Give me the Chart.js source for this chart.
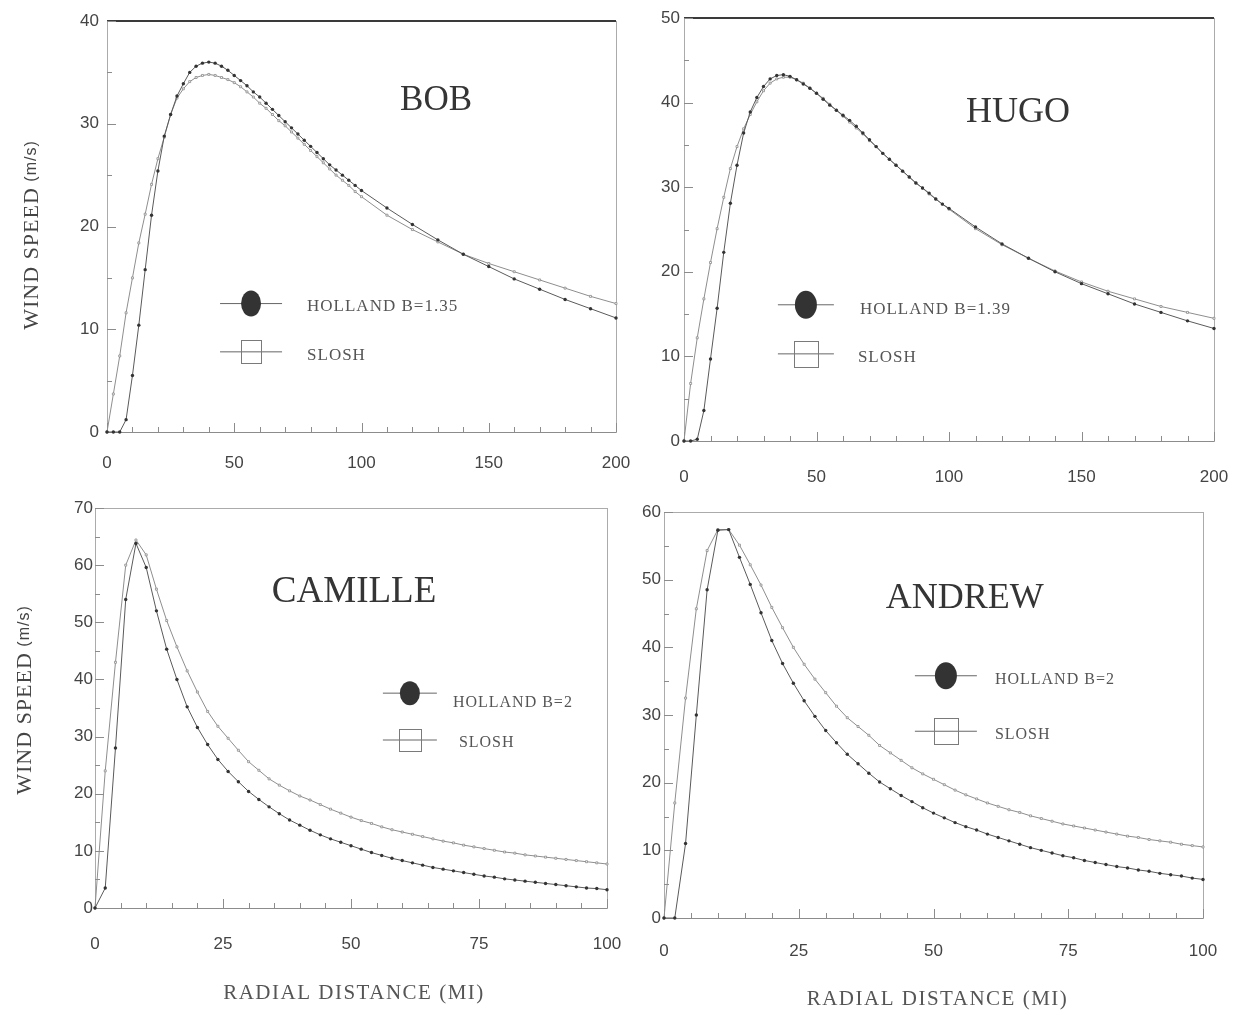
<!DOCTYPE html>
<html>
<head>
<meta charset="utf-8">
<script src="https://cdn.jsdelivr.net/npm/chart.js@4.4.1/dist/chart.umd.min.js"></script>
<style>
  body { margin: 0; background: #fff; width: 1236px; height: 1011px; position: relative; overflow: hidden; }
  .panel { position: absolute; }
</style>
</head>
<body>
<div class="panel" style="left:0;top:0;width:640px;height:490px"><canvas id="bob"></canvas></div>
<div class="panel" style="left:630px;top:0;width:606px;height:495px"><canvas id="hugo"></canvas></div>
<div class="panel" style="left:0;top:490px;width:640px;height:521px"><canvas id="camille"></canvas></div>
<div class="panel" style="left:630px;top:495px;width:606px;height:516px"><canvas id="andrew"></canvas></div>
<script>
// radial distance (mi) for the two upper panels
const topDist = [0, 2.5, 5, 7.5, 10, 12.5, 15, 17.5, 20, 22.5, 25, 27.5, 30, 32.5, 35, 37.5, 40, 42.5, 45, 47.5, 50,
  52.5, 55, 57.5, 60, 62.5, 65, 67.5, 70, 72.5, 75, 77.5, 80, 82.5, 85, 87.5, 90, 92.5, 95, 97.5, 100,
  110, 120, 130, 140, 150, 160, 170, 180, 190, 200];
// radial distance (mi) for the two lower panels
const lowDist = [0, 2, 4, 6, 8, 10, 12, 14, 16, 18, 20, 22, 24, 26, 28, 30, 32, 34, 36, 38, 40, 42, 44, 46, 48, 50,
  52, 54, 56, 58, 60, 62, 64, 66, 68, 70, 72, 74, 76, 78, 80, 82, 84, 86, 88, 90, 92, 94, 96, 98, 100];

// wind speed (m/s)
const bobHolland = [0, 0, 0, 1.2, 5.5, 10.4, 15.8, 21.1, 25.4, 28.8, 30.9, 32.7, 33.9, 35.0, 35.6, 35.9, 36.0, 35.9, 35.6, 35.2, 34.7,
  34.2, 33.7, 33.1, 32.6, 32.0, 31.4, 30.8, 30.2, 29.6, 29.0, 28.4, 27.8, 27.2, 26.6, 26.0, 25.5, 25.0, 24.5, 24.0, 23.5,
  21.8, 20.2, 18.7, 17.3, 16.1, 14.9, 13.9, 12.9, 12.0, 11.1];
const bobSlosh = [0, 3.7, 7.4, 11.6, 15.0, 18.4, 21.2, 24.1, 26.6, 28.7, 30.9, 32.5, 33.4, 34.1, 34.5, 34.7, 34.8, 34.7, 34.5, 34.3, 34.0,
  33.6, 33.1, 32.6, 32.0, 31.5, 30.9, 30.3, 29.8, 29.2, 28.6, 28.0, 27.4, 26.8, 26.2, 25.6, 25.0, 24.5, 24.0, 23.4, 22.9,
  21.1, 19.7, 18.5, 17.3, 16.4, 15.6, 14.8, 14.0, 13.2, 12.5];

const hugoHolland = [0, 0, 0.2, 3.6, 9.7, 15.7, 22.3, 28.1, 32.6, 36.4, 38.9, 40.6, 41.9, 42.8, 43.2, 43.3, 43.1, 42.7, 42.2, 41.7, 41.1,
  40.4, 39.7, 39.1, 38.5, 37.9, 37.2, 36.4, 35.6, 34.8, 34.0, 33.3, 32.6, 31.9, 31.2, 30.5, 29.9, 29.3, 28.6, 28.0, 27.5,
  25.3, 23.3, 21.6, 20.0, 18.6, 17.4, 16.2, 15.2, 14.2, 13.3];
const hugoSlosh = [0, 6.8, 12.2, 16.8, 21.1, 25.1, 28.8, 32.2, 34.8, 36.9, 38.6, 40.1, 41.4, 42.3, 42.8, 43.0, 43.0, 42.7, 42.3, 41.7, 41.1,
  40.5, 39.8, 39.1, 38.4, 37.7, 37.0, 36.3, 35.5, 34.8, 34.0, 33.3, 32.6, 31.9, 31.2, 30.5, 29.9, 29.2, 28.6, 28.0, 27.4,
  25.1, 23.2, 21.6, 20.1, 18.8, 17.7, 16.8, 15.9, 15.2, 14.5];

const camilleHolland = [0, 3.5, 28, 54, 63.8, 59.6, 52.0, 45.3, 40.0, 35.2, 31.6, 28.6, 26.0, 23.9, 22.1, 20.4, 19.0, 17.7, 16.5, 15.4,
  14.5, 13.6, 12.8, 12.1, 11.5, 10.9, 10.3, 9.7, 9.2, 8.7, 8.3, 7.9, 7.5, 7.1, 6.8, 6.5, 6.2, 5.9, 5.6, 5.4,
  5.1, 4.9, 4.7, 4.5, 4.3, 4.1, 3.9, 3.7, 3.5, 3.4, 3.2];
const camilleSlosh = [0, 24, 43, 60, 64.4, 61.8, 55.8, 50.3, 45.7, 41.5, 37.8, 34.4, 31.8, 29.7, 27.6, 25.6, 24.1, 22.6, 21.5, 20.5,
  19.6, 18.9, 18.1, 17.3, 16.6, 15.9, 15.3, 14.8, 14.2, 13.7, 13.3, 12.9, 12.5, 12.1, 11.7, 11.4, 11.0, 10.7, 10.4, 10.1,
  9.8, 9.6, 9.3, 9.1, 8.9, 8.7, 8.5, 8.3, 8.1, 7.9, 7.7];

const andrewHolland = [0, 0, 11, 30, 48.5, 57.3, 57.4, 53.3, 49.3, 45.1, 41.0, 37.6, 34.7, 32.1, 29.8, 27.7, 25.9, 24.2, 22.8, 21.4,
  20.1, 19.1, 18.1, 17.2, 16.3, 15.5, 14.8, 14.1, 13.5, 13.0, 12.4, 11.9, 11.4, 10.9, 10.4, 10.0, 9.6, 9.2, 8.9, 8.5,
  8.2, 7.9, 7.6, 7.4, 7.1, 6.9, 6.6, 6.4, 6.2, 5.9, 5.7];
const andrewSlosh = [0, 17, 32.5, 45.7, 54.3, 57.4, 57.4, 55.1, 52.2, 49.2, 45.9, 42.9, 40.0, 37.5, 35.3, 33.3, 31.3, 29.6, 28.3, 27.0,
  25.5, 24.4, 23.3, 22.2, 21.3, 20.5, 19.7, 18.9, 18.2, 17.6, 17.0, 16.5, 16.0, 15.6, 15.1, 14.7, 14.3, 13.9, 13.6, 13.3,
  13.0, 12.7, 12.4, 12.1, 11.9, 11.6, 11.4, 11.2, 10.9, 10.7, 10.5];

const SERIF = '"Liberation Serif", "Times New Roman", serif';
const SANS = '"Liberation Sans", Arial, sans-serif';

// frame, inward ticks, storm name, legend and axis titles
const panelDecor = {
  id: 'panelDecor',
  beforeDatasetsDraw(chart, args, o) {
    const { ctx, chartArea: a, scales: { x, y } } = chart;
    ctx.save();
    ctx.strokeStyle = '#ababab';
    ctx.lineWidth = 1;
    ctx.strokeRect(a.left + 0.5, a.top + 0.5, a.right - a.left, a.bottom - a.top);
    if (o.heavyTop) {
      ctx.strokeStyle = '#3a3a3a';
      ctx.lineWidth = 2;
      ctx.beginPath();
      ctx.moveTo(a.left, a.top);
      ctx.lineTo(a.right, a.top);
      ctx.stroke();
    }
    ctx.strokeStyle = '#8c8c8c';
    ctx.lineWidth = 1;
    ctx.beginPath();
    ctx.moveTo(a.left, a.bottom + 0.5);
    ctx.lineTo(a.right, a.bottom + 0.5);
    for (let v = x.min; v <= x.max + 1e-6; v += o.xMinor) {
      const px = Math.round(x.getPixelForValue(v)) + 0.5;
      const len = Math.abs(v % o.xMajor) < 1e-6 ? 9 : 5;
      ctx.moveTo(px, a.bottom);
      ctx.lineTo(px, a.bottom - len);
    }
    for (let v = y.min; v <= y.max + 1e-6; v += o.yMinor) {
      const py = Math.round(y.getPixelForValue(v)) + 0.5;
      const len = Math.abs(v % o.yMajor) < 1e-6 ? 9 : 5;
      ctx.moveTo(a.left, py);
      ctx.lineTo(a.left + len, py);
    }
    ctx.stroke();
    ctx.restore();
  },
  afterDatasetsDraw(chart, args, o) {
    const { ctx, chartArea: a, scales: { x, y } } = chart;
    ctx.save();

    // storm name
    ctx.fillStyle = '#353535';
    ctx.font = o.name.size + 'px ' + SERIF;
    ctx.textAlign = 'center';
    ctx.textBaseline = 'middle';
    ctx.fillText(o.name.text, x.getPixelForValue(o.name.x), y.getPixelForValue(o.name.y));

    // legend
    const lg = o.legend;
    const lx = x.getPixelForValue(lg.x);
    const hy = y.getPixelForValue(lg.holland);
    const sy = y.getPixelForValue(lg.slosh);
    ctx.strokeStyle = '#666';
    ctx.lineWidth = 1;
    ctx.beginPath();
    ctx.moveTo(lx - lg.arm, hy); ctx.lineTo(lx + lg.arm, hy);
    ctx.moveTo(lx - lg.arm, sy); ctx.lineTo(lx + lg.arm, sy);
    ctx.stroke();
    ctx.fillStyle = '#333';
    ctx.beginPath();
    ctx.ellipse(lx, hy, lg.rx, lg.ry, 0, 0, Math.PI * 2);
    ctx.fill();
    ctx.strokeStyle = '#7a7a7a';
    ctx.strokeRect(Math.round(lx - lg.sq / 2) + 0.5, Math.round(sy - lg.sqh / 2) + 0.5, lg.sq, lg.sqh);
    ctx.fillStyle = '#555';
    ctx.font = lg.size + 'px ' + SERIF;
    ctx.textAlign = 'left';
    ctx.letterSpacing = '1px';
    ctx.fillText(lg.hText, lx + lg.hGap, hy + lg.hDy);
    ctx.fillText('SLOSH', lx + lg.sGap, sy + lg.sDy);

    // y axis title
    if (o.yTitle) {
      const t = o.yTitle;
      ctx.save();
      ctx.translate(t.x, t.y);
      ctx.rotate(-Math.PI / 2);
      ctx.letterSpacing = '1px';
      ctx.font = '22px ' + SERIF;
      const w1 = ctx.measureText('WIND SPEED').width;
      ctx.font = '16px ' + SANS;
      const w2 = ctx.measureText(' (m/s)').width;
      const start = -(w1 + w2) / 2;
      ctx.fillStyle = '#444';
      ctx.font = '22px ' + SERIF;
      ctx.fillText('WIND SPEED', start, 0);
      ctx.font = '16px ' + SANS;
      ctx.fillText(' (m/s)', start + w1, 0);
      ctx.restore();
    }

    // x axis title
    if (o.xTitle) {
      ctx.letterSpacing = '1.5px';
      ctx.font = '21px ' + SERIF;
      ctx.fillStyle = '#555';
      ctx.textAlign = 'center';
      ctx.fillText('RADIAL DISTANCE (MI)', (a.left + a.right) / 2 + o.xTitle.dx, o.xTitle.y);
    }
    ctx.restore();
  }
};

function pts(xs, ys) {
  return xs.map((v, i) => ({ x: v, y: ys[i] }));
}

function makePanel(id, cfg) {
  new Chart(document.getElementById(id), {
    type: 'line',
    data: {
      datasets: [
        {
          label: cfg.hollandLabel,
          data: pts(cfg.dist, cfg.holland),
          borderColor: '#5a5a5a',
          borderWidth: 1,
          pointRadius: 1.7,
          pointBackgroundColor: '#333',
          pointBorderWidth: 0,
          tension: 0,
          clip: false
        },
        {
          label: 'SLOSH',
          data: pts(cfg.dist, cfg.slosh),
          borderColor: '#8e8e8e',
          borderWidth: 1,
          pointStyle: 'rect',
          pointRadius: 1.4,
          pointBackgroundColor: '#fff',
          pointBorderColor: '#8a8a8a',
          pointBorderWidth: 0.8,
          tension: 0,
          clip: false
        }
      ]
    },
    options: {
      responsive: true,
      maintainAspectRatio: false,
      animation: false,
      events: [],
      layout: { padding: { left: 0, top: cfg.padTop, right: cfg.padRight, bottom: 0 } },
      scales: {
        x: {
          type: 'linear',
          min: 0,
          max: cfg.xMax,
          grid: { display: false, drawTicks: false },
          border: { display: false },
          ticks: { stepSize: cfg.xStep, padding: cfg.xPad, color: '#444', font: { family: SANS, size: 17 } },
          afterFit: s => { s.height = cfg.xHeight; s.paddingLeft = 0; s.paddingRight = 0; }
        },
        y: {
          min: 0,
          max: cfg.yMax,
          grid: { display: false, drawTicks: false },
          border: { display: false },
          ticks: { stepSize: 10, padding: cfg.yPad, color: '#444', font: { family: SANS, size: 17 } },
          afterFit: s => { s.width = cfg.yWidth; s.paddingTop = 0; s.paddingBottom = 0; }
        }
      },
      plugins: {
        legend: { display: false },
        tooltip: { enabled: false },
        panelDecor: cfg.decor
      }
    },
    plugins: [panelDecor]
  });
}

makePanel('bob', {
  dist: topDist, holland: bobHolland, slosh: bobSlosh, hollandLabel: 'HOLLAND B=1.35',
  xMax: 200, xStep: 50, yMax: 40, padTop: 21, padRight: 24, yWidth: 107, xHeight: 58, xPad: 21, yPad: 8,
  decor: {
    heavyTop: true, xMinor: 10, xMajor: 50, yMinor: 5, yMajor: 10,
    name: { text: 'BOB', x: 129.3, y: 32.2, size: 35 },
    legend: { x: 56.6, holland: 12.5, slosh: 7.8, arm: 31, rx: 10, ry: 13, sq: 20, sqh: 23,
      size: 17, hText: 'HOLLAND B=1.35', hGap: 56, sGap: 56, hDy: 3, sDy: 4 },
    yTitle: { x: 32, y: 235 }
  }
});

makePanel('hugo', {
  dist: topDist, holland: hugoHolland, slosh: hugoSlosh, hollandLabel: 'HOLLAND B=1.39',
  xMax: 200, xStep: 50, yMax: 50, padTop: 18, padRight: 22, yWidth: 54, xHeight: 54, xPad: 26, yPad: 4,
  decor: {
    heavyTop: true, xMinor: 10, xMajor: 50, yMinor: 5, yMajor: 10,
    name: { text: 'HUGO', x: 126, y: 38.8, size: 36 },
    legend: { x: 46, holland: 16.1, slosh: 10.3, arm: 28, rx: 11, ry: 14, sq: 24, sqh: 26,
      size: 17, hText: 'HOLLAND B=1.39', hGap: 54, sGap: 52, hDy: 5, sDy: 4 }
  }
});

makePanel('camille', {
  dist: lowDist, holland: camilleHolland, slosh: camilleSlosh, hollandLabel: 'HOLLAND B=2',
  xMax: 100, xStep: 25, yMax: 70, padTop: 18, padRight: 33, yWidth: 95, xHeight: 103, xPad: 26, yPad: 2,
  decor: {
    heavyTop: false, xMinor: 5, xMajor: 25, yMinor: 5, yMajor: 10,
    name: { text: 'CAMILLE', x: 50.6, y: 55.3, size: 37 },
    legend: { x: 61.5, holland: 37.6, slosh: 29.4, arm: 27, rx: 10, ry: 12, sq: 22, sqh: 22,
      size: 16, hText: 'HOLLAND B=2', hGap: 43, sGap: 49, hDy: 10, sDy: 3 },
    yTitle: { x: 25, y: 210 },
    xTitle: { dx: 3, y: 503 }
  }
});

makePanel('andrew', {
  dist: lowDist, holland: andrewHolland, slosh: andrewSlosh, hollandLabel: 'HOLLAND B=2',
  xMax: 100, xStep: 25, yMax: 60, padTop: 17, padRight: 33, yWidth: 34, xHeight: 93, xPad: 23, yPad: 3,
  decor: {
    heavyTop: false, xMinor: 5, xMajor: 25, yMinor: 5, yMajor: 10,
    name: { text: 'ANDREW', x: 55.8, y: 47.2, size: 36 },
    legend: { x: 52.3, holland: 35.8, slosh: 27.6, arm: 31, rx: 11, ry: 13.5, sq: 24, sqh: 26,
      size: 16, hText: 'HOLLAND B=2', hGap: 49, sGap: 49, hDy: 4, sDy: 4 },
    xTitle: { dx: 4, y: 504 }
  }
});
</script>
</body>
</html>
